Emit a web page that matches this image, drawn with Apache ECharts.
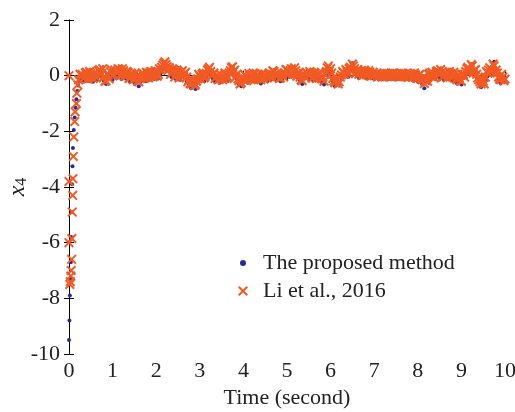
<!DOCTYPE html>
<html>
<head>
<meta charset="utf-8">
<script src="https://cdn.jsdelivr.net/npm/echarts@6/dist/echarts.min.js"></script>
<style>html,body{margin:0;padding:0;background:#fff}#c{width:515px;height:412px}</style>
</head>
<body>
<div id="c"></div>
<script>
// ---- data ----
const xTicks = [0,1,2,3,4,5,6,7,8,9,10];
const yTicks = [-10,-8,-6,-4,-2,0,2];
const seriesNames = ['The proposed method', 'Li et al., 2016'];

// transient (start-up) samples
const blueTransT = [0.0,0.01,0.02,0.03,0.04,0.05,0.06,0.07,0.08,0.09,0.11,0.13,0.15,0.17,0.19,0.21,0.23,0.25];
const blueTransV = [-9.5,-8.8,-7.9,-7.3,-6.7,-5.8,-4.9,-3.9,-3.25,-2.6,-1.95,-1.5,-1.15,-0.85,-0.55,-0.35,-0.2,-0.12];
const orangeTransT = [0.0,0.0,0.0,0.02,0.03,0.04,0.05,0.06,0.065,0.075,0.085,0.09,0.1,0.11,0.13,0.14,0.17,0.18,0.2,0.22,0.25];
const orangeTransV = [0,-3.8,-6.0,-7.5,-7.4,-7.2,-7.0,-6.6,-5.85,-4.9,-4.3,-3.7,-2.9,-2.2,-1.65,-1.3,-1.0,-0.63,-0.33,-0.15,0.05];

// steady-state samples, t = 0.30, 0.35, ..., 10.00
const steadyStart = 0.30, steadyStep = 0.05;
const orangeSteady = [
 0.05,-0.08,0.12,-0.02,0.08,-0.1,0.1,0.02,0.22,0.08,
 -0.05,-0.18,0.02,0.15,0.0,0.2,0.08,0.22,0.05,0.18,
 0.02,0.12,-0.08,0.05,-0.1,-0.02,-0.22,-0.05,0.08,-0.06,
 0.1,-0.02,0.12,0.0,0.15,0.05,0.2,0.38,0.5,0.32,
 0.28,0.1,0.2,0.02,0.15,0.0,0.18,0.08,-0.05,-0.15,
 -0.3,-0.18,-0.32,-0.12,-0.02,0.05,-0.08,0.08,0.25,0.15,
 0.05,-0.1,0.02,-0.12,-0.02,-0.08,0.05,-0.05,0.18,0.32,
 0.2,0.05,-0.18,-0.25,-0.1,0.0,-0.12,0.02,-0.08,0.05,
 -0.1,0.0,-0.15,-0.02,0.05,-0.08,0.1,0.0,0.15,-0.02,
 0.05,-0.08,0.02,0.1,0.2,0.08,0.25,0.12,0.18,0.05,
 -0.05,-0.18,0.02,0.12,0.0,0.1,-0.05,0.08,-0.02,0.05,
 -0.12,-0.2,0.15,0.35,0.25,-0.1,-0.25,-0.15,-0.22,0.02,
 0.1,0.22,0.08,0.3,0.42,0.25,0.15,0.05,0.18,0.08,
 0.15,0.02,0.12,0.05,0.0,0.08,-0.02,0.05,0.0,0.06,
 -0.03,0.05,0.0,0.08,-0.02,0.04,0.0,0.06,-0.04,0.03,
 0.0,0.05,-0.05,0.02,-0.1,0.05,-0.15,-0.28,-0.1,0.05,
 -0.02,0.08,0.0,0.18,0.05,0.12,-0.02,0.1,0.0,0.08,
 -0.05,0.05,-0.15,-0.08,-0.2,0.05,0.15,0.3,0.22,0.35,
 0.2,0.05,-0.15,-0.3,-0.2,-0.05,0.1,0.28,0.2,0.35,
 0.2,-0.05,-0.15,-0.05,-0.12
];
// in-between samples, t = 0.325, 0.375, ..., 9.975
const steadyStartB = 0.325;
const orangeSteadyB = [
 -0.1,0.1,-0.12,0.15,-0.05,0.08,-0.08,0.18,0.05,0.25,
 -0.2,0.05,-0.12,0.22,0.05,0.12,0.25,0.0,0.25,-0.02,
 0.15,-0.1,0.1,-0.15,0.08,-0.2,-0.1,0.1,-0.1,0.12,
 -0.08,0.15,-0.05,0.18,-0.02,0.25,0.3,0.45,0.4,0.2,
 0.05,0.25,-0.05,0.2,-0.08,0.12,-0.02,0.12,-0.22,-0.28,
 -0.15,-0.35,-0.2,0.05,-0.12,0.1,-0.02,0.2,0.3,0.0,
 0.1,-0.05,-0.15,0.05,-0.15,0.1,-0.1,0.1,0.28,0.15,
 -0.05,-0.12,-0.3,-0.12,0.05,-0.18,0.08,-0.15,0.1,-0.12,
 0.05,-0.12,0.08,-0.12,0.0,0.05,-0.05,0.18,0.02,0.1,
 -0.1,0.08,-0.05,0.22,0.05,0.18,0.05,0.28,-0.02,0.12,
 -0.15,0.08,-0.08,0.05,0.15,-0.08,0.12,-0.1,0.1,-0.08,
 -0.05,0.05,0.28,0.18,0.1,-0.2,-0.1,-0.3,-0.05,0.15,
 0.05,0.15,0.25,0.15,0.35,0.08,0.22,0.15,0.0,0.2,
 0.05,0.18,-0.02,0.12,0.05,-0.05,0.08,-0.04,0.1,-0.02,
 0.08,-0.04,0.1,-0.03,0.08,-0.04,0.1,-0.02,0.08,-0.05,
 0.08,-0.06,0.1,-0.08,0.02,-0.12,-0.05,-0.18,-0.2,0.1,
 0.12,-0.08,0.15,0.05,0.22,-0.05,0.12,-0.08,0.15,-0.02,
 0.12,-0.1,0.05,-0.18,0.02,-0.05,0.25,0.12,0.4,0.1,
 0.22,-0.08,-0.22,-0.12,-0.3,0.15,0.2,0.12,0.42,0.1,
 0.1,-0.12,0.05,-0.18
];
const blueSteady = [
 -0.12,-0.2,-0.05,-0.18,-0.08,-0.22,-0.02,-0.15,0.08,-0.05,
 -0.18,-0.3,-0.12,0.02,-0.15,0.05,-0.08,0.1,-0.12,0.05,
 -0.1,-0.02,-0.22,-0.08,-0.25,-0.15,-0.38,-0.2,-0.05,-0.2,
 -0.02,-0.15,0.0,-0.12,0.02,-0.1,0.08,0.25,0.4,0.2,
 0.15,-0.05,0.08,-0.12,0.02,-0.15,0.05,-0.05,-0.2,-0.3,
 -0.45,-0.32,-0.48,-0.25,-0.15,-0.08,-0.2,-0.05,0.12,0.02,
 -0.1,-0.22,-0.1,-0.25,-0.15,-0.2,-0.08,-0.18,0.05,0.2,
 0.08,-0.1,-0.3,-0.38,-0.22,-0.12,-0.25,-0.1,-0.2,-0.08,
 -0.22,-0.12,-0.28,-0.15,-0.08,-0.2,-0.02,-0.12,0.05,-0.15,
 -0.08,-0.2,-0.1,-0.02,0.08,-0.05,0.15,0.0,0.05,-0.08,
 -0.18,-0.3,-0.1,0.0,-0.12,-0.02,-0.18,-0.05,-0.15,-0.08,
 -0.25,-0.32,0.02,0.25,0.12,-0.22,-0.38,-0.28,-0.35,-0.1,
 -0.02,0.1,-0.05,0.2,0.45,0.12,0.02,-0.08,0.05,-0.05,
 0.02,-0.1,0.0,-0.08,-0.12,-0.04,-0.14,-0.08,-0.12,-0.06,
 -0.14,-0.08,-0.12,-0.04,-0.14,-0.08,-0.12,-0.06,-0.15,-0.09,
 -0.12,-0.07,-0.18,-0.1,-0.22,-0.08,-0.3,-0.45,-0.22,-0.08,
 -0.15,-0.04,-0.12,0.05,-0.08,0.0,-0.15,-0.02,-0.12,-0.04,
 -0.18,-0.08,-0.28,-0.2,-0.32,-0.08,0.05,0.2,0.1,0.42,
 0.08,-0.08,-0.28,-0.42,-0.32,-0.18,-0.02,0.15,0.08,0.5,
 0.1,-0.18,-0.28,-0.15,-0.22
];

// ---- build series data ----
function pushSteady(out, start, steady) {
  steady.forEach((v, i) => out.push([Math.round((start + i * steadyStep) * 1000) / 1000, v]));
}
const blueData = blueTransT.map((t, i) => [t, blueTransV[i]]);
pushSteady(blueData, steadyStart, blueSteady);
const orangeData = orangeTransT.map((t, i) => [t, orangeTransV[i]]);
pushSteady(orangeData, steadyStart, orangeSteady);
pushSteady(orangeData, steadyStartB, orangeSteadyB);

const FONT = '"Liberation Serif", "DejaVu Serif", serif';
const BLUE = '#272c92';
const ORANGE = '#f15a24';
const CROSS = 'path://M0,1.4L1.4,0L5,3.6L8.6,0L10,1.4L6.4,5L10,8.6L8.6,10L5,6.4L1.4,10L0,8.6L3.6,5Z';
// small dot inside a 10x10 box (tiny corner specks keep the box size)
const DOT_ICON = 'path://M5,2A3,3 0 1 1 5,8A3,3 0 1 1 5,2Z M0,0L0.01,0L0,0.01Z M10,10L9.99,10L10,9.99Z';

const axisCommon = {
  type: 'value',
  axisLine: { show: true, lineStyle: { color: '#000', width: 1 } },
  axisTick: { show: true, inside: true, length: 5, lineStyle: { color: '#000' } },
  splitLine: { show: false }
};

const chart = echarts.init(document.getElementById('c'), null, { renderer: 'canvas' });
chart.setOption({
  animation: false,
  backgroundColor: '#fff',
  grid: { left: 69, right: 10, top: 20, bottom: 58, containLabel: false, outerBoundsMode: 'none' },
  legend: {
    orient: 'vertical',
    left: 233, top: 247,
    itemWidth: 10, itemHeight: 10, itemGap: 6,
    textStyle: { fontFamily: FONT, fontSize: 22, color: '#222', padding: [0, 0, 0, 10] },
    data: [
      { name: seriesNames[0], icon: DOT_ICON },
      { name: seriesNames[1], icon: CROSS }
    ]
  },
  xAxis: [
    Object.assign({}, axisCommon, {
      min: 0, max: 10, interval: 1, position: 'bottom',
      axisLabel: { fontFamily: FONT, fontSize: 22, color: '#222', margin: 6,
        formatter: v => xTicks.includes(v) ? String(v) : '' },
      name: 'Time (second)', nameLocation: 'middle', nameGap: 33, nameMoveOverlap: false,
      nameTextStyle: { fontFamily: FONT, fontSize: 22, color: '#222' }
    }),
    Object.assign({}, axisCommon, {
      min: 0, max: 10, interval: 1, position: 'top', axisLabel: { show: false }
    })
  ],
  yAxis: [
    Object.assign({}, axisCommon, {
      min: -10, max: 2, interval: 2, position: 'left',
      axisLabel: { fontFamily: FONT, fontSize: 22, color: '#222', margin: 9,
        formatter: v => yTicks.includes(v) ? String(v) : '' },
      name: '{a|x}{b|4}', nameLocation: 'middle', nameGap: 39, nameRotate: 90, nameMoveOverlap: false,
      nameTextStyle: {
        color: '#222',
        rich: {
          a: { fontFamily: FONT, fontStyle: 'italic', fontSize: 24, color: '#222' },
          b: { fontFamily: FONT, fontSize: 16, color: '#222', verticalAlign: 'bottom', padding: [8, 0, 0, 0] }
        }
      }
    }),
    Object.assign({}, axisCommon, {
      min: -10, max: 2, interval: 2, position: 'right', axisLabel: { show: false }
    })
  ],
  series: [
    {
      name: seriesNames[0], type: 'scatter', xAxisIndex: 0, yAxisIndex: 0,
      symbol: 'circle', symbolSize: 4,
      itemStyle: { color: BLUE, opacity: 1 },
      data: blueData, z: 2
    },
    {
      name: seriesNames[1], type: 'scatter', xAxisIndex: 0, yAxisIndex: 0,
      symbol: CROSS, symbolSize: 10,
      itemStyle: { color: ORANGE, opacity: 1 },
      data: orangeData, z: 3
    }
  ]
});
</script>
</body>
</html>
